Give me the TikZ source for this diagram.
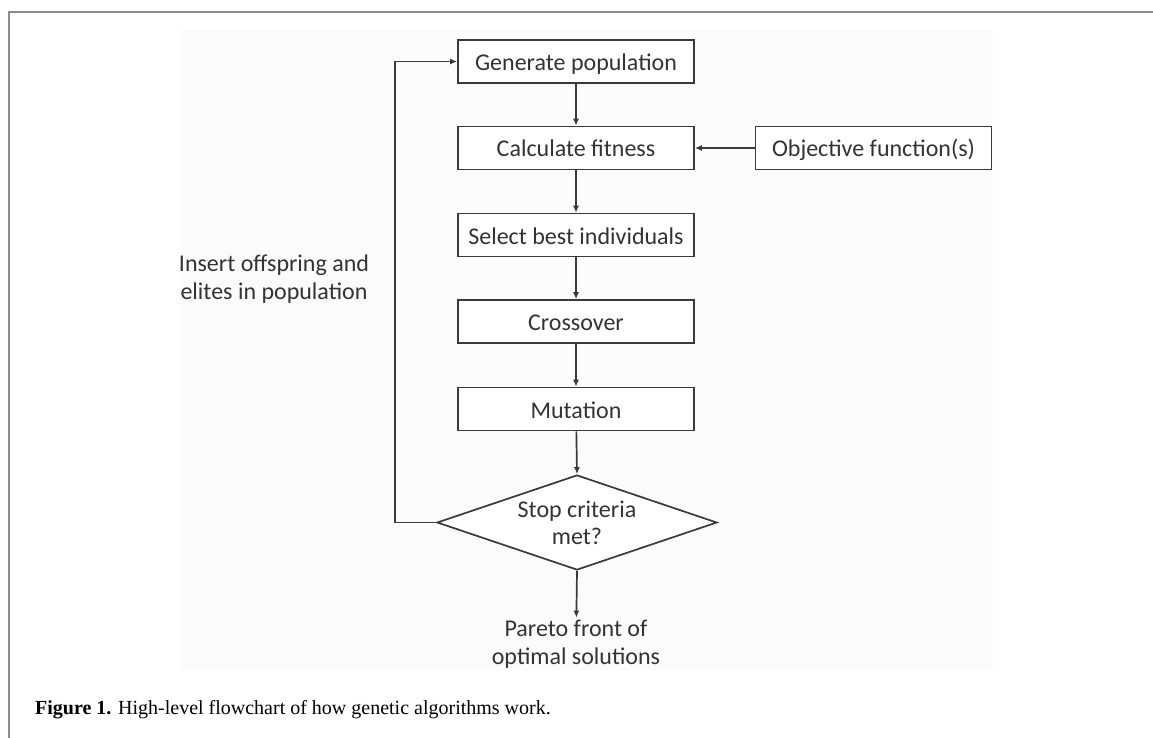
\documentclass[tikz,border=0pt]{standalone}
\usepackage{fontspec}
\setmainfont{Carlito}
\newfontfamily\capfont{Liberation Serif}
\usetikzlibrary{shapes.geometric,arrows.meta}
\definecolor{linegray}{HTML}{3A3A3A}
\definecolor{textgray}{HTML}{333333}
\definecolor{framegray}{HTML}{8C8C8C}
\definecolor{paper}{HTML}{FBFBFB}
\begin{document}
\begin{tikzpicture}[x=1pt,y=-1pt,
  box/.style={rectangle, draw=linegray, line width=1.7pt, fill=white, minimum width=236pt, minimum height=43pt, inner sep=0pt, text height=19pt, text depth=1pt, text=textgray, font=\fontsize{24}{29}\selectfont},
  decision/.style={diamond, draw=linegray, line width=1.7pt, fill=white, minimum width=280pt, minimum height=95pt, aspect=2.95, inner sep=0pt, align=center, text=textgray, font=\fontsize{24}{27}\selectfont},
  plain/.style={align=center, text=textgray, inner sep=2pt, font=\fontsize{24}{28}\selectfont},
  flow/.style={-{Latex[length=7pt,width=6pt]}, draw=linegray, line width=1.7pt}]
\useasboundingbox (0,0) rectangle (1153,738);
\fill[paper] (180,30) rectangle (993,670);
\draw[framegray, line width=1.5pt] (1153,12) -- (9,12) -- (9,738);

\node[box] (G) at (576,61.5) {Generate population};
\node[box] (C) at (576,148) {Calculate fitness};
\node[box] (O) at (873.5,148) {Objective function(s)};
\node[box] (S) at (576,235) {Select best individuals};
\node[box] (X) at (576,321.5) {Crossover};
\node[box] (M) at (576,409) {Mutation};
\node[decision] (D) at (577,522.5) {Stop criteria\\met?};
\node[plain] (P) at (576,644) {Pareto front of\\optimal solutions};
\node[plain] (I) at (274,279) {Insert offspring and\\elites in population};
\node[anchor=base west, inner sep=0pt, font=\capfont\fontsize{20}{23}\selectfont] (cap) at (35,714) {\textbf{Figure 1.} High-level flowchart of how genetic algorithms work.};

\draw[flow] (G) -- (C);
\draw[flow] (O) -- (C);
\draw[flow] (C) -- (S);
\draw[flow] (S) -- (X);
\draw[flow] (X) -- (M);
\draw[flow] (M) -- (D.north);
\draw[flow] (D.south) -- (P);
\draw[flow] (D.west) -- ++(-41,0) |- (G.west);

\end{tikzpicture}
\end{document}
